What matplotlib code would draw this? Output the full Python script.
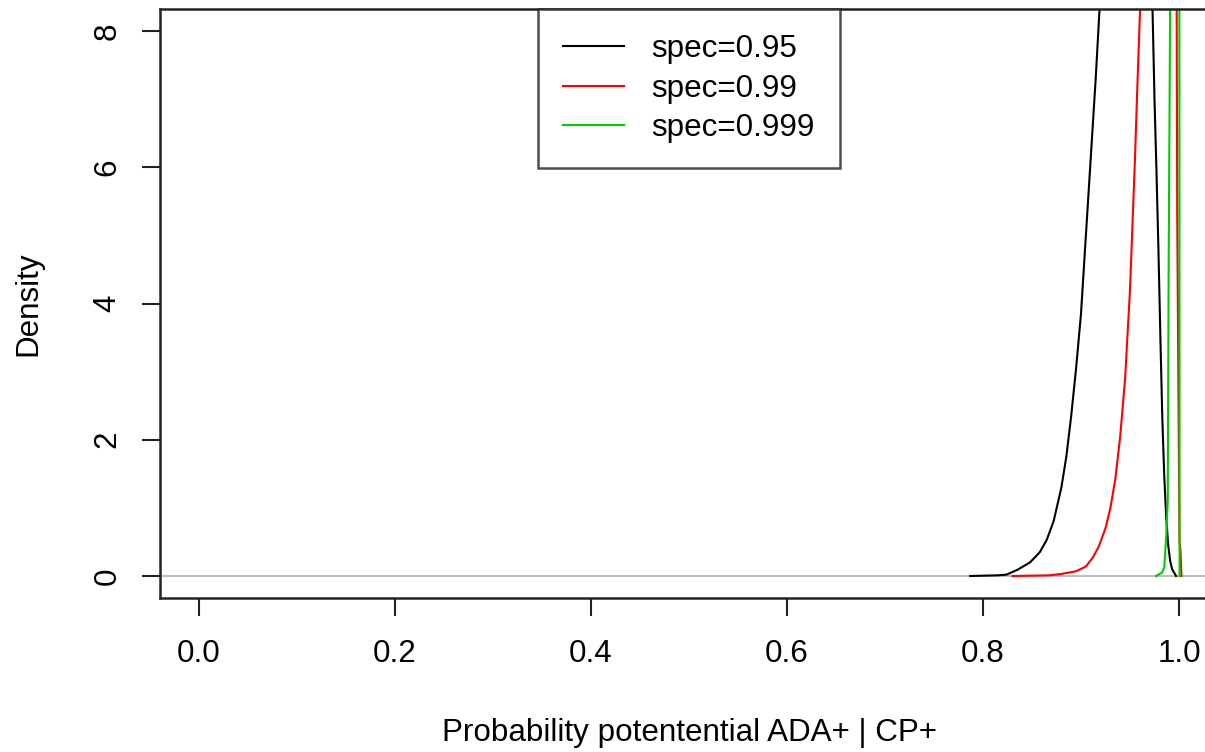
import matplotlib
matplotlib.use("Agg")
import matplotlib.pyplot as plt

plt.rcParams['font.family'] = ['Liberation Sans', 'DejaVu Sans']

# ---- data ----
x_095 = [0.787, 0.815, 0.824, 0.835, 0.848, 0.858, 0.865, 0.872, 0.880, 0.885,
         0.890, 0.895, 0.900, 0.905, 0.910, 0.915, 0.920, 0.930, 0.940, 0.950,
         0.960, 0.968, 0.973, 0.975, 0.977, 0.979, 0.981, 0.983, 0.985, 0.987,
         0.989, 0.991, 0.993, 0.997]
y_095 = [0.0, 0.01, 0.02, 0.09, 0.20, 0.35, 0.53, 0.80, 1.30, 1.75,
         2.35, 3.05, 3.85, 5.00, 6.15, 7.30, 8.60, 11.5, 14.0, 15.0,
         13.5, 10.5, 8.3, 7.0, 5.95, 4.80, 3.50, 2.30, 1.45, 0.85,
         0.45, 0.22, 0.10, 0.0]

x_099 = [0.830, 0.868, 0.880, 0.895, 0.905, 0.912, 0.918, 0.925, 0.930, 0.935,
         0.940, 0.945, 0.950, 0.955, 0.958, 0.961, 0.968, 0.978, 0.988, 0.994,
         0.9975, 0.9982, 1.0005, 1.0015, 1.0025]
y_099 = [0.0, 0.01, 0.03, 0.07, 0.14, 0.27, 0.43, 0.70, 1.00, 1.42,
         2.05, 2.90, 4.20, 6.10, 7.40, 8.60, 12.0, 18.0, 23.0, 24.0,
         9.0, 5.26, 0.5, 0.38, 0.0]

x_0999 = [0.9765, 0.9827, 0.985, 0.987, 0.9885, 0.9895, 0.991, 0.993, 0.996,
          0.999, 0.9998, 1.0006]
y_0999 = [0.0, 0.05, 0.13, 0.6, 1.1, 4.68, 8.5, 20.0, 40.0,
          45.0, 30.0, 0.0]

series = [("spec=0.95", x_095, y_095, "black"),
          ("spec=0.99", x_099, y_099, "#FF0000"),
          ("spec=0.999", x_0999, y_0999, "#00CD00")]

x_ticks = [0.0, 0.2, 0.4, 0.6, 0.8, 1.0]
x_tick_labels = ["0.0", "0.2", "0.4", "0.6", "0.8", "1.0"]
y_ticks = [0, 2, 4, 6, 8]
y_tick_labels = ["0", "2", "4", "6", "8"]

# ---- figure ----
W, H = 1205, 752
fig = plt.figure(figsize=(W / 100, H / 100), dpi=100)
left, right, top, bottom = 159.8, 1218.2, 9.2, 597.8
ax = fig.add_axes([left / W, 1 - bottom / H, (right - left) / W, (bottom - top) / H])

FS = 22.6
ax.axhline(0, color="#BEBEBE", lw=1.5, zorder=1)
for lab, xs, ys, col in series:
    ax.plot(xs, ys, color=col, lw=1.5, label=lab, zorder=2)

ax.set_xlim(-0.04, 1.04)
ax.set_ylim(-0.32, 8.32)
ax.set_xticks(x_ticks)
ax.set_xticklabels(x_tick_labels, fontsize=FS)
ax.set_yticks(y_ticks)
ax.set_yticklabels(y_tick_labels, fontsize=FS, rotation=90, va="center")
ax.tick_params(axis="both", direction="out", length=13, width=1.5, color="#222222")
ax.tick_params(axis="x", pad=16.5)
ax.tick_params(axis="y", pad=14)
for s in ax.spines.values():
    s.set_linewidth(1.8)
    s.set_color("#222222")

ax.set_xlabel("Probability potentential ADA+ | CP+", fontsize=FS, va="center")
ax.xaxis.set_label_coords(0.5, (bottom - 733) / (bottom - top))
ax.set_ylabel("Density", fontsize=FS, va="center")
ax.yaxis.set_label_coords((28 - left) / (right - left), 0.5)

leg = ax.legend(loc="upper center", bbox_to_anchor=(0.5, 1.0), borderaxespad=0,
                fontsize=FS, fancybox=False, frameon=True, edgecolor="#222222",
                handlelength=1.95, handletextpad=0.86, borderpad=0.8,
                labelspacing=0.3)
leg.get_frame().set_linewidth(1.8)
for line in leg.get_lines():
    line.set_linewidth(1.5)

fig.savefig("out.png", dpi=100)
